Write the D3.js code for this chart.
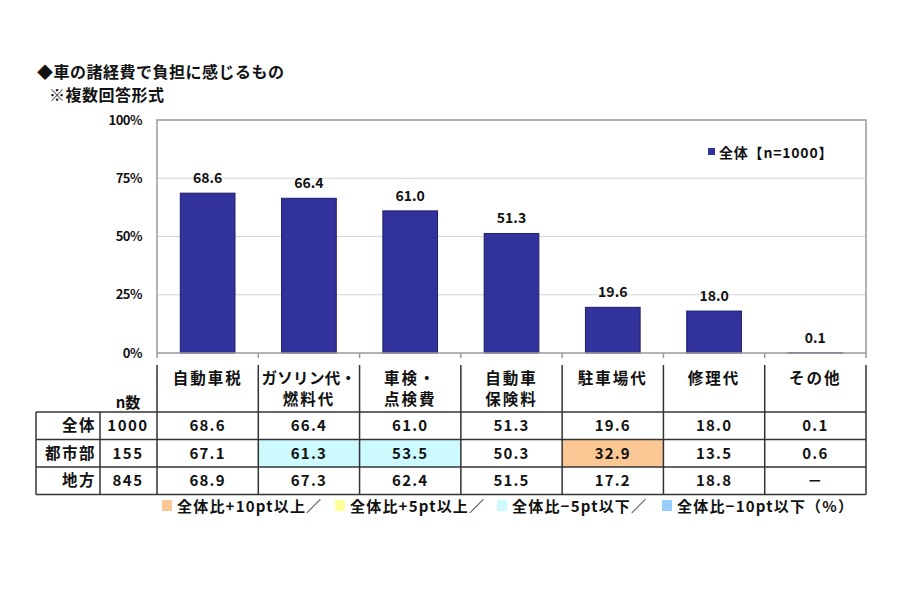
<!DOCTYPE html>
<html>
<head>
<meta charset="utf-8">
<script src="https://cdn.jsdelivr.net/npm/d3@7"></script>
<style>
  body { margin: 0; background: #fff; }
  text { font-family: "Noto Sans CJK JP", "Noto Sans", sans-serif; font-weight: bold; fill: #111; }
</style>
</head>
<body>
<svg id="chart" width="900" height="600"></svg>
<script>
// categories (header labels split in lines)
const categories = ["自動車税", "ガソリン代・燃料代", "車検・点検費", "自動車保険料", "駐車場代", "修理代", "その他"];
const headerLines = [["自動車税"], ["ガソリン代・", "燃料代"], ["車検・", "点検費"], ["自動車", "保険料"], ["駐車場代"], ["修理代"], ["その他"]];
const totalValues = [68.6, 66.4, 61.0, 51.3, 19.6, 18.0, 0.1];
const urbanValues = [67.1, 61.3, 53.5, 50.3, 32.9, 13.5, 0.6];
const ruralValues = [68.9, 67.3, 62.4, 51.5, 17.2, 18.8, null];
const rowLabels = ["全体", "都市部", "地方"];
const rowN = [1000, 155, 845];
const yTicks = [0, 25, 50, 75, 100];
const legendItems = ["全体比+10pt以上／", "全体比+5pt以上／", "全体比−5pt以下／", "全体比−10pt以下（%）"];
const legendColors = ["#fbc794", "#ffff99", "#ccfaff", "#99ccff"];

const svg = d3.select("#chart");
const plot = { left: 157, right: 866, top: 120, bottom: 353 };

const x = d3.scaleBand().domain(categories).range([plot.left, plot.right]).paddingInner(0.46).paddingOuter(0.23);
const xCol = d3.scaleBand().domain(categories).range([plot.left, plot.right]);
const y = d3.scaleLinear().domain([0, 100]).range([plot.bottom, plot.top]);

// title
svg.append("text").attr("x", 37).attr("y", 78).attr("font-size", 16).attr("letter-spacing", 0.5).text("◆車の諸経費で負担に感じるもの");
svg.append("text").attr("x", 49).attr("y", 101).attr("font-size", 16).attr("letter-spacing", 0.5).text("※複数回答形式");

// gridlines
svg.append("g").selectAll("line").data(yTicks.filter(d => d > 0 && d < 100)).join("line")
  .attr("x1", plot.left).attr("x2", plot.right)
  .attr("y1", d => y(d)).attr("y2", d => y(d))
  .attr("stroke", "#d6d6d6").attr("stroke-width", 1);

// y tick labels
svg.append("g").selectAll("text").data(yTicks).join("text")
  .attr("x", 142).attr("y", d => y(d) + 4.5)
  .attr("text-anchor", "end").attr("font-size", 13)
  .attr("letter-spacing", -0.5)
  .text(d => d + "%");

// bars
svg.append("g").selectAll("rect").data(totalValues).join("rect")
  .attr("x", (d, i) => x(categories[i]))
  .attr("y", d => y(d))
  .attr("width", x.bandwidth())
  .attr("height", d => y(0) - y(d))
  .attr("fill", "#32329c").attr("stroke", "#1e1e66").attr("stroke-width", 1);

// value labels
svg.append("g").selectAll("text").data(totalValues).join("text")
  .attr("x", (d, i) => x(categories[i]) + x.bandwidth() / 2)
  .attr("y", d => y(d) - 10)
  .attr("text-anchor", "middle").attr("font-size", 14)
  .text(d => d.toFixed(1));

// plot frame
svg.append("rect")
  .attr("x", plot.left).attr("y", plot.top)
  .attr("width", plot.right - plot.left).attr("height", plot.bottom - plot.top)
  .attr("fill", "none").attr("stroke", "#9a9a9a").attr("stroke-width", 1.5);

// bottom axis ticks
svg.append("g").selectAll("line").data(d3.range(categories.length + 1)).join("line")
  .attr("x1", i => plot.left + i * xCol.bandwidth()).attr("x2", i => plot.left + i * xCol.bandwidth())
  .attr("y1", plot.bottom).attr("y2", plot.bottom + 5)
  .attr("stroke", "#9a9a9a").attr("stroke-width", 1.5);

// legend for bars
svg.append("rect").attr("x", 708).attr("y", 148).attr("width", 7).attr("height", 7).attr("fill", "#32329c");
svg.append("text").attr("x", 719).attr("y", 158).attr("font-size", 14).attr("letter-spacing", 0.8).text("全体【n=1000】");

// table
const table = { left: 36, labelRight: 100, headTop: 365, headBottom: 412, rowH: 27.5 };
const tg = svg.append("g");
const rows = [totalValues, urbanValues, ruralValues];

// highlight cells by difference to total
function cellColor(v, t) {
  if (v == null) return null;
  const diff = v - t;
  if (diff >= 10) return legendColors[0];
  if (diff >= 5) return legendColors[1];
  if (diff <= -10) return legendColors[3];
  if (diff <= -5) return legendColors[2];
  return null;
}
rows.forEach((vals, r) => {
  if (r === 0) return;
  vals.forEach((v, i) => {
    const c = cellColor(v, totalValues[i]);
    if (c) tg.append("rect")
      .attr("x", xCol(categories[i])).attr("y", table.headBottom + r * table.rowH)
      .attr("width", xCol.bandwidth()).attr("height", table.rowH)
      .attr("fill", c);
  });
});

// header texts
headerLines.forEach((lines, i) => {
  lines.forEach((l, k) => {
    tg.append("text")
      .attr("x", xCol(categories[i]) + xCol.bandwidth() / 2)
      .attr("y", 384 + k * 21)
      .attr("text-anchor", "middle").attr("font-size", 15.5)
      .attr("letter-spacing", l.length > 5 ? 0.3 : 2)
      .text(l);
  });
});
tg.append("text").attr("x", 128).attr("y", 408).attr("text-anchor", "middle").attr("font-size", 15).text("n数");

// rows
rows.forEach((vals, r) => {
  const cy = table.headBottom + r * table.rowH + table.rowH / 2 + 5.5;
  tg.append("text").attr("x", 96).attr("y", cy).attr("text-anchor", "end").attr("font-size", 15.5).attr("letter-spacing", 1.5).text(rowLabels[r]);
  tg.append("text").attr("x", 128).attr("y", cy).attr("text-anchor", "middle").attr("font-size", 15).attr("letter-spacing", 1.5).text(rowN[r]);
  vals.forEach((v, i) => {
    tg.append("text")
      .attr("x", xCol(categories[i]) + xCol.bandwidth() / 2).attr("y", cy)
      .attr("text-anchor", "middle").attr("font-size", 15).attr("letter-spacing", 1.2)
      .text(v == null ? "－" : v.toFixed(1));
  });
});

// table lines
const lineColor = "#333";
const bottomY = table.headBottom + rows.length * table.rowH;
d3.range(categories.length + 1).forEach(i => {
  const lx = plot.left + i * xCol.bandwidth();
  tg.append("line").attr("x1", lx).attr("x2", lx).attr("y1", table.headTop).attr("y2", bottomY)
    .attr("stroke", lineColor).attr("stroke-width", 1.5);
});
[table.left, table.labelRight].forEach(lx => {
  tg.append("line").attr("x1", lx).attr("x2", lx).attr("y1", table.headBottom).attr("y2", bottomY)
    .attr("stroke", lineColor).attr("stroke-width", 1.5);
});
d3.range(rows.length + 1).forEach(r => {
  const ly = table.headBottom + r * table.rowH;
  tg.append("line").attr("x1", table.left).attr("x2", plot.right).attr("y1", ly).attr("y2", ly)
    .attr("stroke", lineColor).attr("stroke-width", 1.5);
});

// color legend
const legendX = [162, 335, 497, 662];
legendItems.forEach((t, i) => {
  svg.append("rect").attr("x", legendX[i]).attr("y", 500).attr("width", 10).attr("height", 11).attr("fill", legendColors[i]);
  svg.append("text").attr("x", legendX[i] + 15).attr("y", 512).attr("font-size", 15).attr("letter-spacing", 1.2).text(t);
});
</script>
</body>
</html>
